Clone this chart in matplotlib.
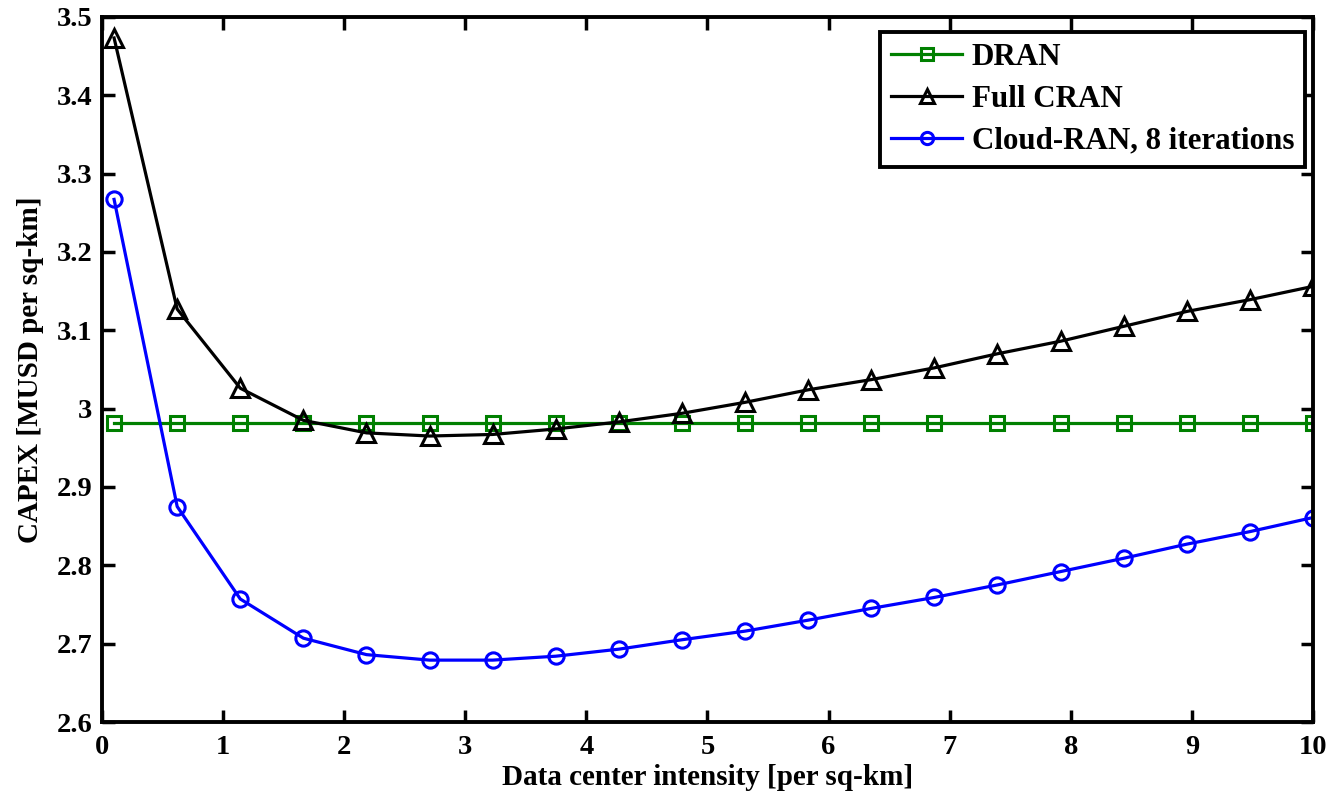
import numpy as np
import matplotlib
matplotlib.use("Agg")
import matplotlib.pyplot as plt

plt.rcParams["font.family"] = ["Liberation Serif", "DejaVu Serif"]
plt.rcParams["font.weight"] = "bold"

# data
intensity = np.linspace(0.1, 10, 20)
dran = [2.982] * 20
full_cran = [3.473, 3.127, 3.026, 2.985, 2.969, 2.965, 2.967, 2.974, 2.983, 2.994,
             3.008, 3.024, 3.037, 3.052, 3.070, 3.086, 3.105, 3.124, 3.139, 3.156]
cloud_ran = [3.267, 2.875, 2.757, 2.707, 2.686, 2.679, 2.679, 2.684, 2.693, 2.705,
             2.716, 2.730, 2.745, 2.759, 2.775, 2.792, 2.809, 2.827, 2.843, 2.861]

fig = plt.figure(figsize=(13.33, 8.01), dpi=100)
ax = fig.add_axes([0.0765, 0.0986, 0.9085, 0.8804])

ax.plot(intensity, dran, color="#008000", lw=2.3, marker="s", ms=10,
        mfc="none", mew=2.2, label="DRAN")
ax.plot(intensity, full_cran, color="black", lw=2.3, marker="^", ms=13,
        mfc="none", mew=2.2, label="Full CRAN")
ax.plot(intensity, cloud_ran, color="#0000ff", lw=2.3, marker="o", ms=11,
        mfc="none", mew=2.2, label="Cloud-RAN, 8 iterations")

ax.set_xlim(0, 10)
ax.set_ylim(2.6, 3.5)
ax.set_xticks(range(0, 11))
ax.set_yticks(np.arange(2.6, 3.51, 0.1))
ax.set_yticklabels(["2.6", "2.7", "2.8", "2.9", "3", "3.1", "3.2", "3.3", "3.4", "3.5"])
ax.tick_params(direction="in", length=9, width=2.5, top=True, right=True,
               labelsize=20.5)
ax.tick_params(axis="x", pad=9)
ax.tick_params(axis="y", pad=7)
for s in ax.spines.values():
    s.set_linewidth(2.8)

ax.set_xlabel("Data center intensity [per sq-km]", fontsize=21, fontweight="bold", labelpad=3)
ax.set_ylabel("CAPEX [MUSD per sq-km]", fontsize=21, fontweight="bold", labelpad=9)

leg = ax.legend(loc="upper right", bbox_to_anchor=(0.9934, 0.9787), borderaxespad=0,
                fontsize=22.3, fancybox=False, framealpha=1, edgecolor="black",
                handlelength=2.3, handletextpad=0.3, borderpad=0.35,
                labelspacing=0.42, markerscale=0.8)
leg.get_frame().set_linewidth(2.8)

fig.savefig("out.png", dpi=100)
